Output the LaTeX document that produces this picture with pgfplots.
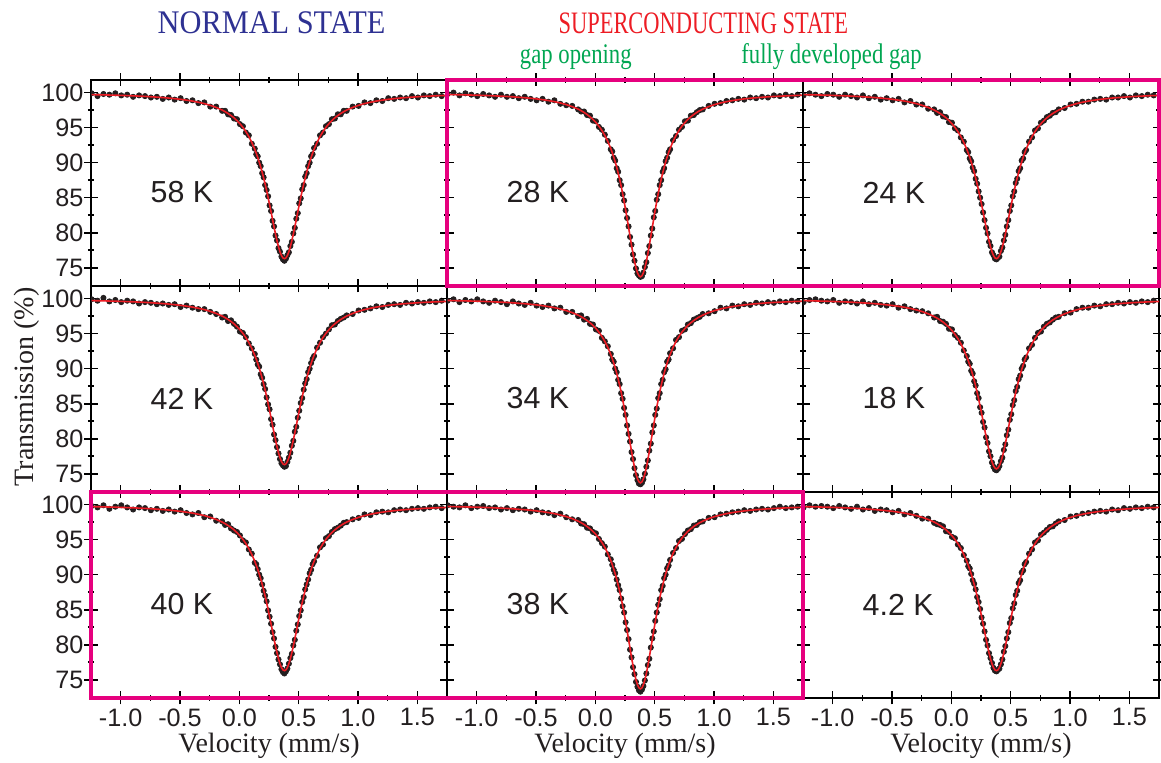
\documentclass[border=0pt]{standalone}
\usepackage{fontspec}
\setmainfont{Liberation Serif}
\newfontfamily\arial{Liberation Sans}
\usepackage{pgfplots}
\usepackage{pgfplotstable}
\pgfplotsset{compat=1.18}

\definecolor{dotc}{RGB}{35,31,32}
\definecolor{fitred}{RGB}{237,28,36}
\definecolor{titleblue}{RGB}{46,49,146}
\definecolor{titlegreen}{RGB}{0,166,81}
\definecolor{boxmag}{RGB}{230,0,126}

\newcommand{\tickfont}{\arial\fontsize{12.6}{14}\selectfont}
\newcommand{\labfont}{\arial\fontsize{15.2}{17}\selectfont}

% columns: velocity, three fits (A: 58/24/42/40/4.2 K, B: 18 K, C: 28/34/38 K), data per panel
\pgfplotstableread{
x fA fB fC p58 p28 p24 p42 p34 p18 p40 p38 p4
-1.245 99.71 99.71 99.73 99.9 99.8 99.6 99.9 99.7 99.5 99.8 99.9 99.6
-1.195 99.69 99.69 99.71 99.5 100.0 99.9 99.7 99.9 99.8 99.6 99.7 99.9
-1.145 99.68 99.67 99.69 99.8 99.6 99.7 100.1 99.5 99.9 99.9 99.6 99.7
-1.095 99.65 99.64 99.67 99.7 99.9 99.5 99.6 99.8 99.7 99.4 99.9 99.8
-1.045 99.63 99.62 99.65 99.9 99.7 99.8 99.8 99.6 99.6 99.7 99.5 99.7
-0.995 99.60 99.59 99.63 99.6 99.5 99.7 99.5 99.9 99.8 99.9 99.7 99.5
-0.945 99.57 99.56 99.60 99.7 99.8 99.4 99.7 99.6 99.4 99.6 99.8 99.8
-0.895 99.54 99.53 99.57 99.4 99.6 99.7 99.6 99.4 99.6 99.3 99.5 99.6
-0.845 99.50 99.49 99.53 99.6 99.4 99.5 99.3 99.7 99.5 99.6 99.6 99.4
-0.795 99.46 99.44 99.49 99.5 99.7 99.3 99.5 99.5 99.3 99.5 99.3 99.7
-0.745 99.41 99.39 99.45 99.3 99.4 99.6 99.4 99.2 99.6 99.2 99.5 99.3
-0.695 99.35 99.34 99.40 99.4 99.5 99.2 99.2 99.6 99.2 99.4 99.2 99.5
-0.645 99.29 99.27 99.33 99.1 99.2 99.4 99.3 99.3 99.4 99.1 99.4 99.1
-0.595 99.22 99.20 99.27 99.3 99.4 99.0 99.1 99.1 99.1 99.3 99.3 99.3
-0.545 99.13 99.11 99.19 99.0 99.1 99.2 99.2 99.4 99.0 99.0 99.0 99.2
-0.495 99.04 99.01 99.10 99.2 98.9 98.9 98.8 99.0 99.2 99.2 99.2 98.9
-0.445 98.92 98.90 98.99 98.8 99.1 99.1 99.0 98.8 98.7 98.8 98.9 99.1
-0.395 98.79 98.76 98.86 98.9 98.7 98.6 98.7 99.0 98.9 98.6 98.8 98.6
-0.345 98.62 98.59 98.71 98.5 98.9 98.8 98.5 98.6 98.5 98.8 98.5 98.8
-0.295 98.43 98.39 98.52 98.6 98.4 98.3 98.5 98.7 98.3 98.2 98.7 98.4
-0.245 98.18 98.14 98.29 98.0 98.2 98.3 98.1 98.1 98.2 98.3 98.2 98.0
-0.195 97.88 97.83 98.00 98.0 98.1 97.7 97.8 98.1 97.9 97.7 97.9 98.0
-0.145 97.51 97.44 97.64 97.4 97.6 97.6 97.3 97.5 97.3 97.6 97.8 97.4
-0.120 97.28 97.21 97.42 97.4 97.3 97.1 97.4 97.6 97.4 97.1 97.3 97.2
-0.095 97.02 96.95 97.17 96.9 97.3 97.2 96.8 97.0 96.8 97.2 97.2 97.1
-0.070 96.73 96.65 96.88 96.8 96.8 96.6 96.9 97.1 96.7 96.6 96.7 96.9
-0.045 96.40 96.30 96.55 96.3 96.7 96.5 96.4 96.4 96.4 96.3 96.6 96.2
-0.020 96.01 95.91 96.18 96.2 96.0 95.8 96.0 96.3 95.7 96.1 96.1 96.1
0.005 95.56 95.45 95.73 95.5 95.9 95.7 95.3 95.6 95.6 95.6 95.9 95.4
0.030 95.04 94.92 95.22 95.2 95.1 94.9 95.1 95.4 94.8 94.9 95.1 95.2
0.055 94.44 94.30 94.61 94.3 94.7 94.6 94.5 94.4 94.4 94.6 94.5 94.3
0.080 93.73 93.57 93.89 93.9 94.0 93.6 93.6 93.9 93.7 93.6 94.0 93.8
0.105 92.89 92.71 93.04 92.7 93.1 93.0 92.9 93.2 92.6 93.0 92.9 92.8
0.130 91.91 91.70 92.02 92.0 91.9 91.8 92.1 92.1 91.8 91.7 92.2 92.0
0.1425 91.35 91.14 91.44 91.2 91.6 91.5 91.3 91.3 91.0 91.5 91.4 91.2
0.155 90.75 90.52 90.80 90.9 90.7 90.6 90.6 91.0 90.7 90.8 90.7 90.9
0.1675 90.10 89.85 90.11 90.0 90.3 90.2 90.3 90.0 89.7 90.0 90.2 90.1
0.180 89.39 89.13 89.35 89.5 89.2 89.3 89.2 89.5 89.3 89.5 89.3 89.2
0.1925 88.63 88.35 88.52 88.5 88.7 88.8 88.7 88.4 88.2 88.6 88.5 88.7
0.205 87.82 87.51 87.62 87.9 87.5 87.7 87.8 87.8 87.6 87.7 87.8 87.9
0.2175 86.94 86.61 86.65 86.8 86.8 87.0 87.1 86.5 86.5 87.0 86.6 86.8
0.230 86.01 85.66 85.60 86.1 85.5 85.9 85.9 85.7 85.8 86.2 85.5 86.1
0.2425 85.03 84.65 84.48 85.2 84.6 85.0 84.9 84.4 84.5 84.9 84.6 85.1
0.255 84.01 83.60 83.29 83.9 83.2 84.1 84.2 83.4 83.7 84.0 83.2 83.9
0.2675 82.96 82.53 82.04 83.1 82.1 82.9 82.8 81.9 82.4 83.0 82.1 83.0
0.280 81.89 81.43 80.76 81.7 80.9 81.8 82.0 80.7 81.6 81.8 80.8 81.9
0.2925 80.83 80.34 79.47 80.9 79.4 80.7 80.6 79.6 80.2 80.9 79.3 80.7
0.305 79.81 79.29 78.20 79.6 78.3 79.9 79.8 78.1 79.4 79.7 78.2 79.9
0.3175 78.85 78.31 77.00 78.9 76.9 78.7 78.8 77.1 78.2 78.8 76.8 78.8
0.330 78.00 77.44 75.91 77.8 76.0 78.1 77.9 75.8 77.5 77.9 75.8 78.1
0.3425 77.29 76.71 74.99 77.3 74.9 77.2 77.1 74.8 76.6 77.2 74.7 77.4
0.355 76.75 76.16 74.29 76.6 74.2 76.8 76.5 74.1 76.0 76.5 74.0 76.7
0.3675 76.41 75.82 73.85 76.2 73.9 76.3 76.2 73.6 75.6 76.1 73.5 76.3
0.380 76.30 75.70 73.70 76.0 73.7 76.2 76.0 73.5 75.5 75.9 73.3 76.2
0.3925 76.41 75.82 73.85 76.3 73.8 76.4 76.1 73.7 75.7 76.2 73.6 76.4
0.405 76.75 76.16 74.29 76.8 74.3 76.6 76.7 74.2 76.1 76.6 74.1 76.6
0.4175 77.29 76.71 74.99 77.2 75.1 77.4 77.3 75.0 76.8 77.3 74.9 77.2
0.430 78.00 77.44 75.91 78.1 75.8 77.9 78.0 76.0 77.3 78.1 75.9 77.9
0.4425 78.85 78.31 77.00 78.7 77.1 78.9 79.0 76.9 78.4 78.7 77.1 79.0
0.455 79.81 79.29 78.20 79.9 78.1 79.7 79.7 78.3 79.2 79.9 78.0 79.8
0.4675 80.83 80.34 79.47 80.7 79.6 80.9 81.0 79.3 80.5 80.7 79.6 80.9
0.480 81.89 81.43 80.76 82.0 80.6 81.8 81.7 80.9 81.3 82.0 80.9 81.8
0.4925 82.96 82.53 82.04 82.8 82.2 83.1 83.0 81.9 82.7 82.9 81.9 83.1
0.505 84.01 83.60 83.29 84.2 83.1 83.9 84.0 83.4 83.5 84.1 83.4 83.8
0.5175 85.03 84.65 84.48 84.9 84.7 85.2 85.1 84.3 84.8 84.9 84.6 85.2
0.530 86.01 85.66 85.60 86.2 85.5 85.9 85.8 85.8 85.5 86.1 85.7 85.9
0.5425 86.94 86.61 86.65 86.8 86.8 87.1 87.0 86.5 86.8 86.8 86.5 87.1
0.555 87.82 87.51 87.62 88.0 87.5 87.7 87.9 87.8 87.4 87.9 87.8 87.7
0.5675 88.63 88.35 88.52 88.5 88.7 88.8 88.5 88.4 88.5 88.6 88.4 88.8
0.580 89.39 89.13 89.35 89.5 89.2 89.2 89.5 89.5 89.0 89.3 89.5 89.2
0.5925 90.10 89.85 90.11 90.0 90.2 90.3 90.0 89.9 90.0 90.2 90.0 90.3
0.605 90.75 90.52 90.80 90.9 90.7 90.6 90.8 91.0 90.4 90.7 90.9 90.6
0.6175 91.35 91.14 91.44 91.2 91.5 91.5 91.4 91.3 91.3 91.5 91.3 91.5
0.630 91.91 91.70 92.02 92.1 91.9 91.8 91.8 92.2 91.6 91.9 92.1 91.8
0.655 92.89 92.71 93.04 92.7 93.2 93.0 93.0 92.9 92.9 92.7 93.1 93.0
0.680 93.73 93.57 93.89 93.9 93.8 93.6 93.7 94.1 93.4 93.9 93.8 93.6
0.705 94.44 94.30 94.61 94.3 94.7 94.6 94.5 94.5 94.4 94.3 94.8 94.6
0.730 95.04 94.92 95.22 95.2 95.1 94.9 95.0 95.4 95.1 95.2 95.1 94.9
0.755 95.56 95.45 95.73 95.5 95.9 95.7 95.6 95.6 95.3 95.5 95.8 95.7
0.780 96.01 95.91 96.18 96.2 96.0 96.0 96.2 96.3 96.0 96.1 96.3 96.0
0.805 96.40 96.30 96.55 96.3 96.7 96.5 96.3 96.5 96.4 96.5 96.5 96.4
0.830 96.73 96.65 96.88 96.9 96.8 96.7 96.8 97.0 96.6 96.7 97.0 96.8
0.855 97.02 96.95 97.17 96.9 97.2 97.1 97.1 97.2 97.0 97.0 97.1 96.9
0.880 97.28 97.21 97.42 97.4 97.5 97.2 97.3 97.4 97.3 97.4 97.5 97.3
0.905 97.51 97.44 97.64 97.4 97.6 97.6 97.6 97.8 97.4 97.5 97.6 97.6
0.955 97.88 97.83 98.00 98.0 98.1 97.8 97.8 97.9 97.9 97.9 98.1 97.8
1.005 98.18 98.14 98.29 98.1 98.4 98.3 98.3 98.2 98.0 98.1 98.2 98.3
1.055 98.43 98.39 98.52 98.6 98.5 98.4 98.4 98.7 98.5 98.6 98.6 98.4
1.105 98.62 98.59 98.71 98.5 98.8 98.7 98.6 98.6 98.7 98.5 98.7 98.7
1.155 98.79 98.76 98.86 98.9 98.9 98.7 98.9 99.0 98.7 98.9 98.9 98.8
1.205 98.92 98.90 98.99 98.8 99.1 99.0 98.8 98.9 99.0 99.0 99.0 99.0
1.255 99.04 99.01 99.10 99.2 99.0 99.1 99.1 99.2 98.9 98.9 99.2 99.1
1.305 99.13 99.11 99.19 99.1 99.3 99.0 99.2 99.1 99.2 99.2 99.1 99.0
1.355 99.22 99.20 99.27 99.3 99.2 99.3 99.1 99.4 99.2 99.3 99.3 99.3
1.405 99.29 99.27 99.33 99.2 99.4 99.3 99.4 99.3 99.4 99.2 99.4 99.2
1.455 99.35 99.34 99.40 99.5 99.3 99.5 99.3 99.5 99.3 99.4 99.3 99.5
1.505 99.41 99.39 99.45 99.3 99.6 99.3 99.5 99.4 99.5 99.5 99.5 99.4
1.555 99.46 99.44 99.49 99.6 99.5 99.6 99.4 99.6 99.4 99.4 99.7 99.6
1.605 99.50 99.49 99.53 99.5 99.7 99.5 99.6 99.5 99.6 99.6 99.5 99.5
1.655 99.54 99.53 99.57 99.7 99.5 99.7 99.5 99.7 99.5 99.7 99.6 99.7
1.705 99.57 99.56 99.60 99.5 99.7 99.6 99.7 99.6 99.7 99.5 99.7 99.6
1.755 99.60 99.59 99.63 99.7 99.6 99.8 99.6 99.7 99.6 99.8 99.6 99.8
}\spectra

\pgfplotsset{
  panel/.style={
    scale only axis, width=178pt, height=103pt, anchor=south west,
    xmin=-1.25, xmax=1.75, ymin=72.4, ymax=101.8,
    xtick={-1,-0.5,0,0.5,1,1.5}, ytick={75,80,85,90,95,100},
    minor x tick num=1, minor y tick num=1,
    tick align=center, major tick length=6.5pt, minor tick length=3pt,
    axis line style={line width=0.9pt},
    tick style={black, line width=0.8pt},
    clip marker paths=true,
    xticklabels={}, yticklabels={},
    ticklabel style={font=\tickfont, text=dotc},
    xticklabel style={yshift=1.5pt},
    yticklabel style={xshift=3pt},
  },
  leftcol/.style={yticklabels={75,80,85,90,95,100}},
  bottomrow/.style={xticklabels={-1.0,-0.5,0.0,0.5,1.0,1.5}},
}

\newcommand{\spec}[3]{%
  \addplot[only marks, mark=*, mark size=1.3pt, color=dotc] table[x=x, y=#1] {\spectra};
  \addplot[no marks, color=fitred, line width=0.8pt] table[x=x, y=#2] {\spectra};
  \node[anchor=west, inner sep=0pt, font=\labfont, text=dotc] at (axis cs:-0.75,85.74) {#3};
}

\begin{document}
\begin{tikzpicture}
\useasboundingbox (-45.5pt,-32.5pt) rectangle (535pt,349pt);

% top row
\begin{axis}[panel, leftcol, at={(0pt,206pt)}]
  \spec{p58}{fA}{58 K}
\end{axis}
\begin{axis}[panel, at={(178pt,206pt)}]
  \spec{p28}{fC}{28 K}
\end{axis}
\begin{axis}[panel, at={(356pt,206pt)}]
  \spec{p24}{fA}{24 K}
\end{axis}

% middle row
\begin{axis}[panel, leftcol, at={(0pt,103pt)}]
  \spec{p42}{fA}{42 K}
\end{axis}
\begin{axis}[panel, at={(178pt,103pt)}]
  \spec{p34}{fC}{34 K}
\end{axis}
\begin{axis}[panel, at={(356pt,103pt)}]
  \spec{p18}{fB}{18 K}
\end{axis}

% bottom row
\begin{axis}[panel, leftcol, bottomrow, at={(0pt,0pt)}]
  \spec{p40}{fA}{40 K}
\end{axis}
\begin{axis}[panel, bottomrow, at={(178pt,0pt)}]
  \spec{p38}{fC}{38 K}
\end{axis}
\begin{axis}[panel, bottomrow, at={(356pt,0pt)}]
  \spec{p4}{fA}{4.2 K}
\end{axis}

% highlight boxes
\draw[boxmag, line width=2pt] (178pt,206pt) rectangle (534pt,309pt);
\draw[boxmag, line width=2pt] (0pt,0pt) rectangle (356pt,103pt);

% headings
\node[anchor=base, inner sep=0.5pt, text=titleblue, font=\fontsize{16.5}{18}\selectfont] at (90.3pt,332.3pt) {\scalebox{0.92}[1]{NORMAL STATE}};
\node[anchor=base, inner sep=0.5pt, text=fitred, font=\fontsize{15.6}{18}\selectfont] at (306.2pt,332.3pt) {\scalebox{0.72}[1]{SUPERCONDUCTING STATE}};
\node[anchor=base, inner sep=0.5pt, text=titlegreen, font=\fontsize{14.2}{16}\selectfont] at (242.4pt,317.2pt) {\scalebox{0.80}[1]{gap opening}};
\node[anchor=base, inner sep=0.5pt, text=titlegreen, font=\fontsize{14.2}{16}\selectfont] at (370.3pt,317.2pt) {\scalebox{0.80}[1]{fully developed gap}};

% axis titles
\foreach \cx in {89pt,267pt,445pt}
  \node[anchor=base, inner sep=0.5pt, text=dotc, font=\fontsize{14}{16}\selectfont] at (\cx,-27.3pt) {Velocity (mm/s)};
\node[anchor=base, rotate=90, inner sep=0.5pt, text=dotc, font=\fontsize{14}{16}\selectfont] at (-28.8pt,155.5pt) {Transmission (\%)};
\end{tikzpicture}
\end{document}
